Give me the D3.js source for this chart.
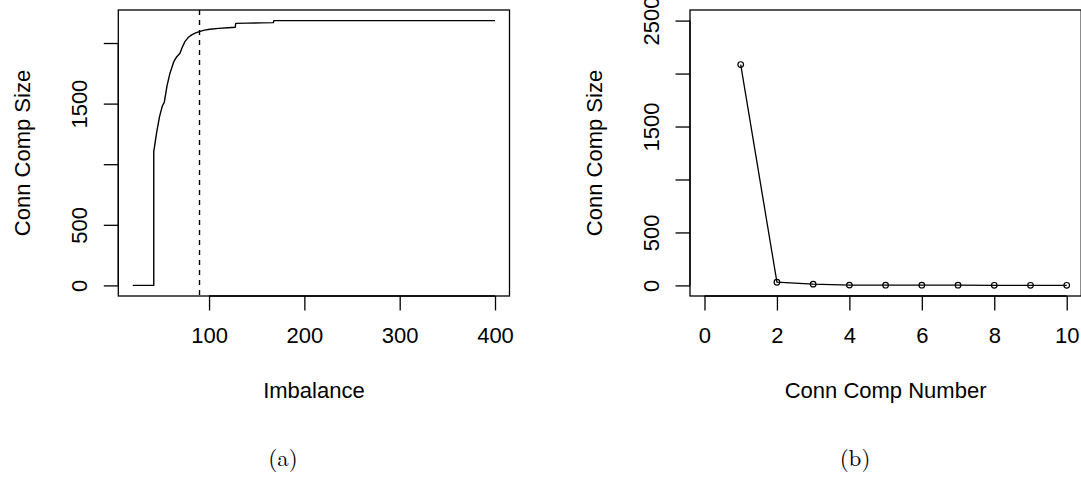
<!DOCTYPE html>
<html>
<head>
<meta charset="utf-8">
<script src="https://cdn.jsdelivr.net/npm/d3@7"></script>
<style>
  html, body { margin: 0; padding: 0; background: #fff; }
  svg { display: block; }
  text { font-family: "Liberation Sans", Arial, Helvetica, sans-serif; fill: #000; }
</style>
</head>
<body>
<svg id="chart" width="1081" height="483"></svg>
<script>
// ---- Panel (a): connected component size vs imbalance ----
const imbalance = [20, 42, 42, 45, 48, 51, 53, 56, 59, 63, 66, 69.5, 71.5, 74.7, 78, 81.8, 86, 89.8, 95, 101, 110, 120, 127.5, 128, 140, 155, 167.5, 168, 400];
const compSizeA = [0, 0, 1104, 1260, 1390, 1480, 1510, 1650, 1751, 1846, 1885, 1916, 1957, 2012, 2045, 2067, 2083, 2094, 2106, 2114, 2121, 2126, 2130, 2162, 2164, 2166, 2168, 2185, 2185];
const thresholdA = 90;
const xTicksA = [100, 200, 300, 400];
const yTicksA = [0, 500, 1000, 1500, 2000];
const yTickLabelsA = ["0", "500", "", "1500", ""];

// ---- Panel (b): connected component size vs component number ----
const compNumber = [1, 2, 3, 4, 5, 6, 7, 8, 9, 10];
const compSizeB = [2085, 30, 12, 3, 2, 2, 2, 1, 1, 1];
const xTicksB = [0, 2, 4, 6, 8, 10];
const yTicksB = [0, 500, 1000, 1500, 2000, 2500];
const yTickLabelsB = ["0", "500", "", "1500", "", "2500"];

const svg = d3.select("#chart");
const FONT = 22;
const TICK = 14.5;

function rPad(lo, hi) { const p = (hi - lo) * 0.04; return [lo - p, hi + p]; }

function drawPanel(o) {
  const x = d3.scaleLinear().domain(o.xDomain).range([o.left, o.right]);
  const y = d3.scaleLinear().domain(o.yDomain).range([o.bottom, o.top]);
  const g = svg.append("g");

  // x axis
  const xa = g.append("g").attr("transform", `translate(0,${o.bottom})`)
    .call(d3.axisBottom(x).tickValues(o.xTicks).tickSize(TICK).tickSizeOuter(0).tickFormat(d3.format("d")));
  xa.select(".domain").attr("d", `M${x(o.xTicks[0])},0H${x(o.xTicks[o.xTicks.length-1])}`).attr("stroke", "#000").attr("stroke-width", 1.3);
  xa.selectAll(".tick line").attr("stroke", "#000").attr("stroke-width", 1.3);
  xa.selectAll(".tick text").attr("y", 47).attr("dy", null)
    .style("font-size", FONT + "px").attr("fill", "#000");

  // y axis
  const ya = g.append("g").attr("transform", `translate(${o.left},0)`)
    .call(d3.axisLeft(y).tickValues(o.yTicks).tickSize(TICK).tickSizeOuter(0)
      .tickFormat((d, i) => o.yLabels[i]));
  ya.select(".domain").attr("d", `M0,${y(o.yTicks[0])}V${y(o.yTicks[o.yTicks.length-1])}`).attr("stroke", "#000").attr("stroke-width", 1.3);
  ya.selectAll(".tick line").attr("stroke", "#000").attr("stroke-width", 1.3);
  ya.selectAll(".tick text")
    .attr("transform", "rotate(-90)")
    .attr("x", 0).attr("y", -31).attr("dy", null)
    .attr("text-anchor", "middle")
    .style("font-size", FONT + "px").attr("fill", "#000");
  ya.attr("font-family", null).attr("font-size", null);
  xa.attr("font-family", null).attr("font-size", null);

  // box
  g.append("rect")
    .attr("x", o.left).attr("y", o.top)
    .attr("width", o.right - o.left).attr("height", o.bottom - o.top)
    .attr("fill", "none").attr("stroke", "#000").attr("stroke-width", 1.3);

  // axis titles
  g.append("text")
    .attr("x", (o.left + o.right) / 2).attr("y", 398)
    .attr("text-anchor", "middle").style("font-size", FONT + "px")
    .text(o.xTitle);
  g.append("text")
    .attr("transform", `translate(${o.left - 88},${(o.top + o.bottom) / 2}) rotate(-90)`)
    .attr("text-anchor", "middle").style("font-size", FONT + "px")
    .text(o.yTitle);

  // sub-caption
  g.append("text")
    .attr("x", o.capX).attr("y", 466)
    .attr("text-anchor", "middle")
    .style("font-family", "'Latin Modern Roman', 'CMU Serif', 'Liberation Serif', 'DejaVu Serif', serif")
    .style("font-size", "23px")
    .text(o.caption);

  return { g, x, y };
}

// Panel (a)
const pa = drawPanel({
  left: 118.3, right: 509.5, top: 10, bottom: 296,
  xDomain: rPad(d3.min(imbalance), d3.max(imbalance)),
  yDomain: rPad(0, d3.max(compSizeA)),
  xTicks: xTicksA, yTicks: yTicksA, yLabels: yTickLabelsA,
  xTitle: "Imbalance", yTitle: "Conn Comp Size",
  caption: "(a)", capX: 283
});
pa.g.append("path")
  .datum(imbalance.map((v, i) => [v, compSizeA[i]]))
  .attr("fill", "none").attr("stroke", "#000").attr("stroke-width", 1.4)
  .attr("stroke-linejoin", "round")
  .attr("d", d3.line().x(d => pa.x(d[0])).y(d => pa.y(d[1])));
pa.g.append("line")
  .attr("x1", pa.x(thresholdA)).attr("x2", pa.x(thresholdA))
  .attr("y1", 10).attr("y2", 296)
  .attr("stroke", "#000").attr("stroke-width", 1.4)
  .attr("stroke-dasharray", "5,5");

// Panel (b)
const pb = drawPanel({
  left: 690, right: 1081.2, top: 10, bottom: 296,
  xDomain: rPad(0, 10),
  yDomain: rPad(0, 2500),
  xTicks: xTicksB, yTicks: yTicksB, yLabels: yTickLabelsB,
  xTitle: "Conn Comp Number", yTitle: "Conn Comp Size",
  caption: "(b)", capX: 855
});
const ptsB = compNumber.map((v, i) => [v, compSizeB[i]]);
pb.g.append("path")
  .datum(ptsB)
  .attr("fill", "none").attr("stroke", "#000").attr("stroke-width", 1.3)
  .attr("d", d3.line().x(d => pb.x(d[0])).y(d => pb.y(d[1])));
pb.g.selectAll("circle.pt").data(ptsB).join("circle")
  .attr("class", "pt")
  .attr("cx", d => pb.x(d[0])).attr("cy", d => pb.y(d[1]))
  .attr("r", 2.8)
  .attr("fill", "none").attr("stroke", "#000").attr("stroke-width", 1.2);
</script>
</body>
</html>
